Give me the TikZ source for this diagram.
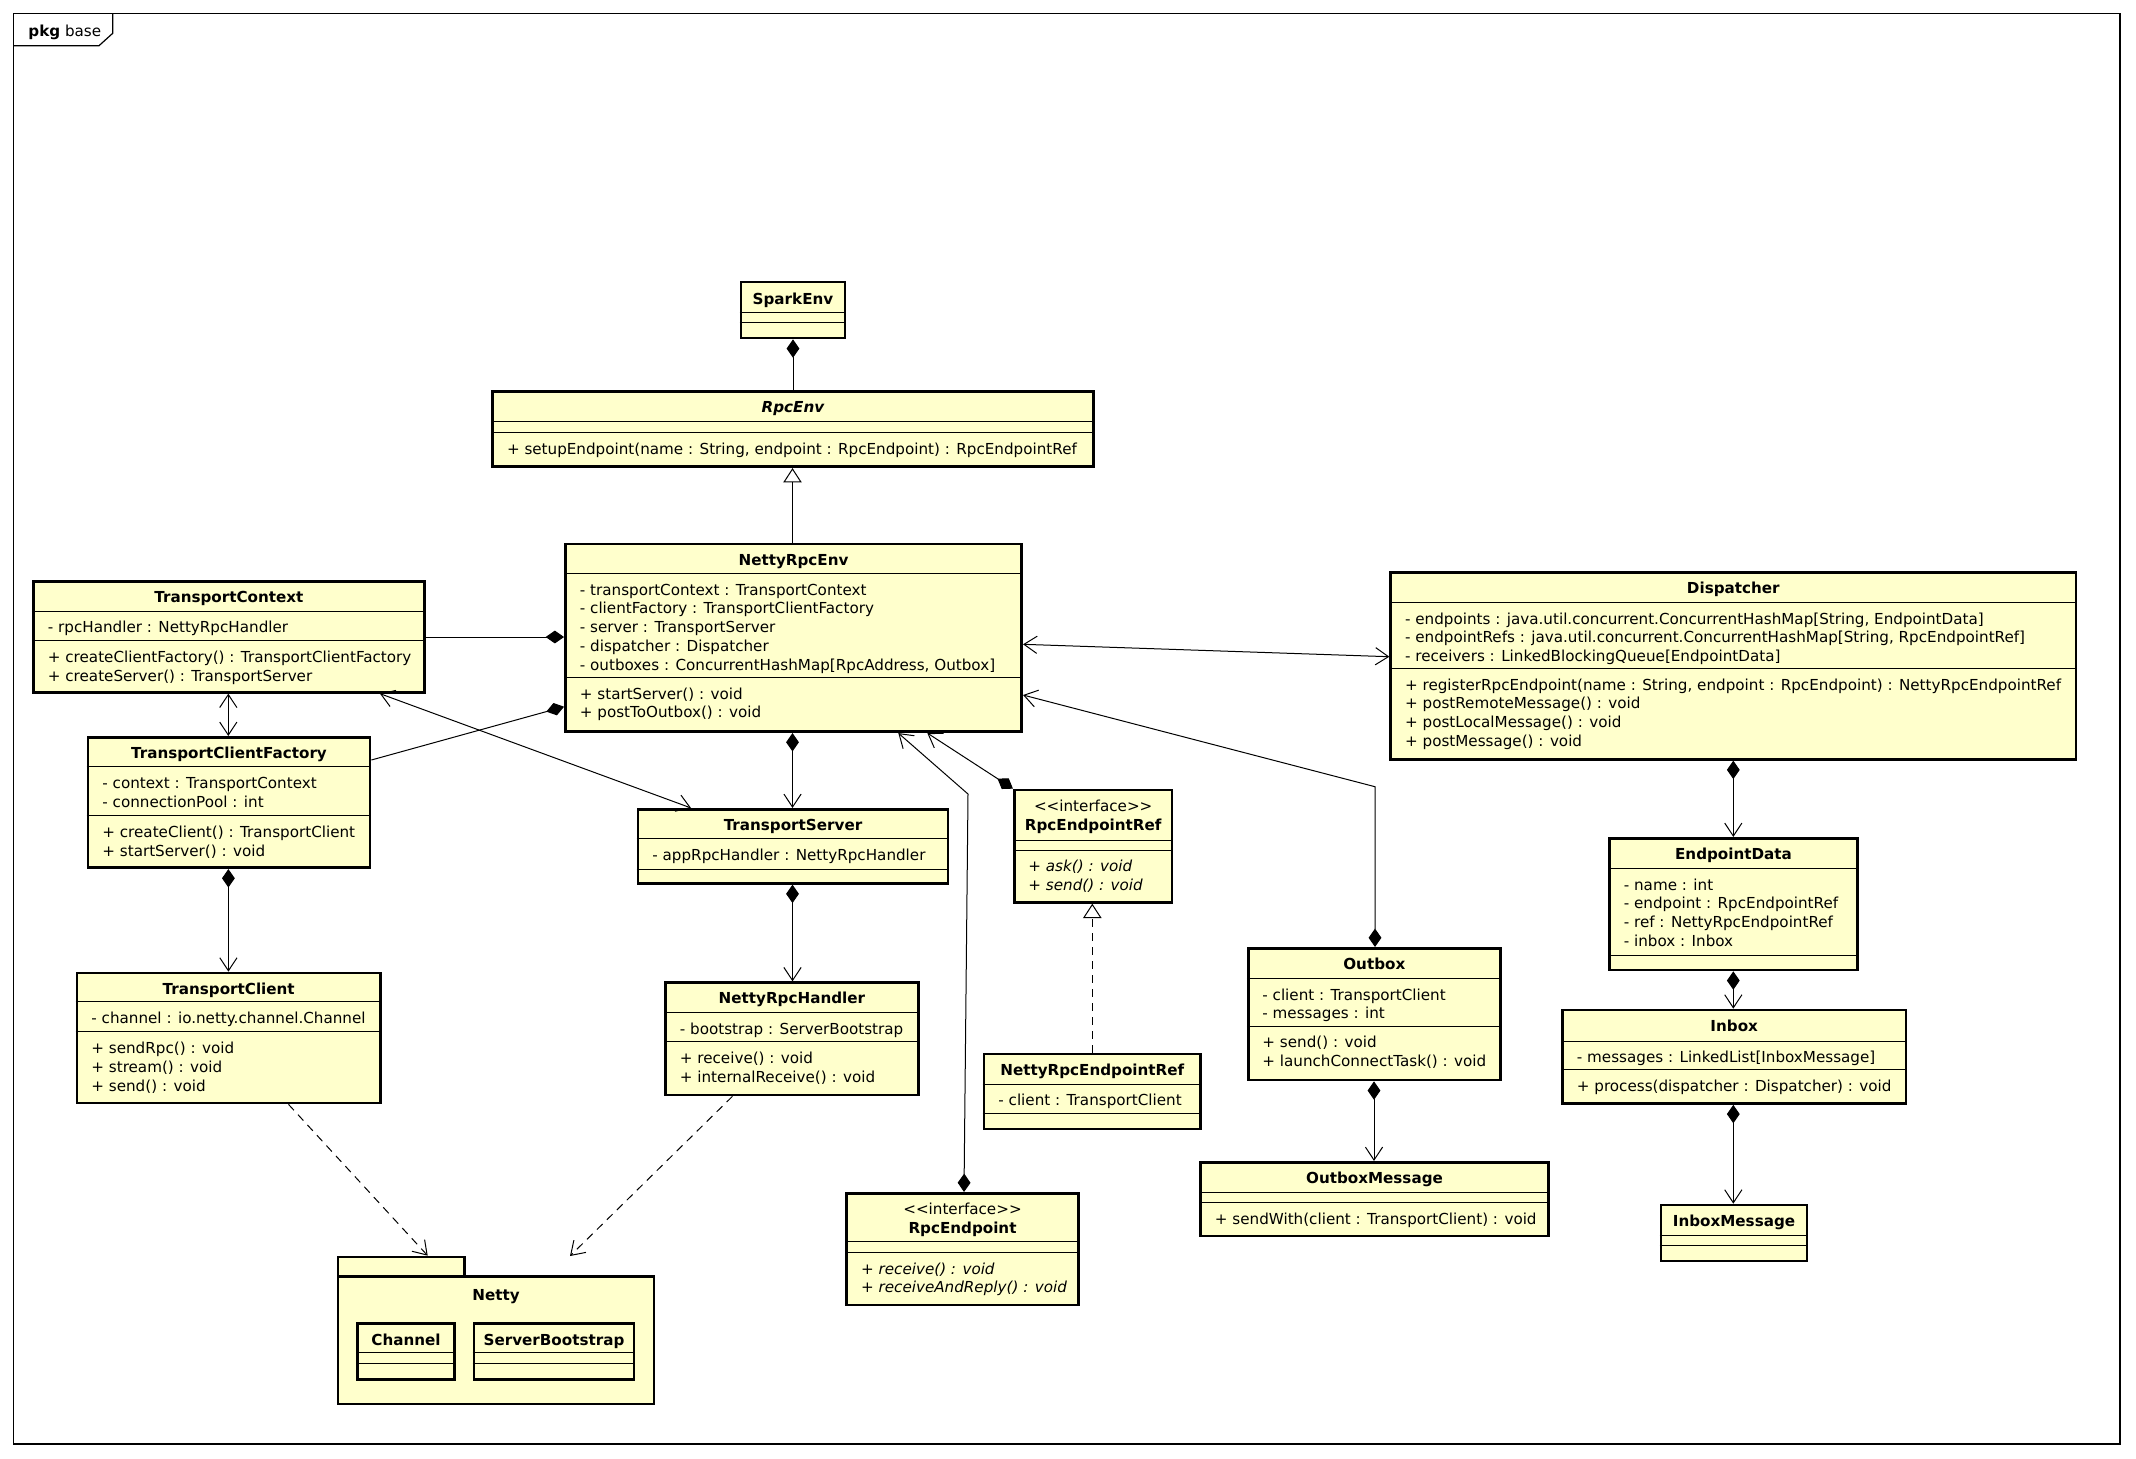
\documentclass[tikz,border=0pt]{standalone}
\usepackage{fontspec}
\setmainfont{DejaVu Sans}
\usetikzlibrary{arrows.meta,fit}
\definecolor{classfill}{RGB}{255,255,204}
\newcommand\uf{\fontsize{7.58pt}{9.35pt}\selectfont}
\newcommand\ls{\rule[-2.6pt]{0pt}{9.35pt}}
\newcommand\secline[2]{\draw[sec] (#1.west |- 0,#2) -- (#1.east |- 0,#2);}
\newcommand\stereo{<{}<interface>{}>}
\tikzset{
  umlcomp/.tip={Diamond[length=9.2pt,width=6.4pt]},
  umlopen/.tip={Straight Barb[length=6.5pt,width=8.6pt]},
  umlgen/.tip={Triangle[open,length=7.2pt,width=9.2pt]},
  box/.style={draw, line width=1.35pt, fill=classfill, inner sep=0pt},
  sec/.style={line width=0.5pt},
  lbl/.style={inner sep=0pt, anchor=north west, align=left},
  ttl/.style={inner sep=0pt, anchor=base, font=\uf\bfseries},
  stp/.style={inner sep=0pt, anchor=base},
  conn/.style={line width=0.5pt},
  dep/.style={line width=0.5pt, dash pattern=on 4pt off 3pt},
}
\begin{document}
\begin{tikzpicture}[x=0.5pt, y=-0.5pt, font=\uf]
\fill[white] (0,0) rectangle (2136,1458);
\useasboundingbox (0,0) rectangle (2136,1458);

% package frame
\node[draw, line width=0.6pt, inner sep=0pt, fit={(13.3,13.3) (2120,1444)}] (frame) {};
\draw[line width=0.6pt] (13.3,45.7) -- (99,45.7) -- (112.7,33.3) -- (112.7,13.3);
\node[inner sep=0pt, anchor=base west] (pkglabel) at (28,36) {\textbf{pkg} base};

% SparkEnv
\node[box, fit={(741,282) (845,338)}] (sparkenv) {};
\secline{sparkenv}{312.3}\secline{sparkenv}{322.3}
\node[ttl] (sparkenv-t) at (793,304) {SparkEnv};

% RpcEnv
\node[box, fit={(492.6,391.7) (1093.2,466.7)}] (rpcenv) {};
\secline{rpcenv}{421.7}\secline{rpcenv}{432.3}
\node[ttl, font=\uf\bfseries\itshape] (rpcenv-t) at (792.9,412.7) {RpcEnv};
\node[lbl] (rpcenv-o) at (506.6,440.3) {\ls + setupEndpoint(name : String, endpoint : RpcEndpoint) : RpcEndpointRef};

% NettyRpcEnv
\node[box, fit={(565.4,544) (1021.7,731.7)}] (nettyrpcenv) {};
\secline{nettyrpcenv}{573.3}\secline{nettyrpcenv}{677.3}
\node[ttl] (nettyrpcenv-t) at (793.5,565) {NettyRpcEnv};
\node[lbl] (nettyrpcenv-a) at (579.5,581.3) {\ls - transportContext : TransportContext\\\ls - clientFactory : TransportClientFactory\\\ls - server : TransportServer\\\ls - dispatcher : Dispatcher\\\ls - outboxes : ConcurrentHashMap[RpcAddress, Outbox]};
\node[lbl] (nettyrpcenv-o) at (579.5,685.3) {\ls + startServer() : void\\\ls + postToOutbox() : void};

% TransportContext
\node[box, fit={(33.2,581.8) (424.6,692.3)}] (tctx) {};
\secline{tctx}{611}\secline{tctx}{640.7}
\node[ttl] (tctx-t) at (228.9,602.5) {TransportContext};
\node[lbl] (tctx-a) at (47.5,619) {\ls - rpcHandler : NettyRpcHandler};
\node[lbl] (tctx-o) at (47.5,648.7) {\ls + createClientFactory() : TransportClientFactory\\\ls + createServer() : TransportServer};

% TransportClientFactory
\node[box, fit={(88,737.3) (370,867.7)}] (tcf) {};
\secline{tcf}{766.7}\secline{tcf}{815.7}
\node[ttl] (tcf-t) at (229,758) {TransportClientFactory};
\node[lbl] (tcf-a) at (102,774.7) {\ls - context : TransportContext\\\ls - connectionPool : int};
\node[lbl] (tcf-o) at (102,823.7) {\ls + createClient() : TransportClient\\\ls + startServer() : void};

% TransportServer
\node[box, fit={(638,809.3) (948,883.3)}] (tserver) {};
\secline{tserver}{838.3}\secline{tserver}{869}
\node[ttl] (tserver-t) at (793,830) {TransportServer};
\node[lbl] (tserver-a) at (652,846.3) {\ls - appRpcHandler : NettyRpcHandler};

% NettyRpcHandler
\node[box, fit={(665.5,982.7) (918.2,1095)}] (nrpch) {};
\secline{nrpch}{1012.7}\secline{nrpch}{1041.7}
\node[ttl] (nrpch-t) at (791.9,1003.7) {NettyRpcHandler};
\node[lbl] (nrpch-a) at (679.5,1020.7) {\ls - bootstrap : ServerBootstrap};
\node[lbl] (nrpch-o) at (679.5,1049.7) {\ls + receive() : void\\\ls + internalReceive() : void};

% TransportClient
\node[box, fit={(77,973) (380.3,1103)}] (tclient) {};
\secline{tclient}{1001.6}\secline{tclient}{1031.9}
\node[ttl] (tclient-t) at (228.7,994) {TransportClient};
\node[lbl] (tclient-a) at (91,1009.6) {\ls - channel : io.netty.channel.Channel};
\node[lbl] (tclient-o) at (91,1039.9) {\ls + sendRpc() : void\\\ls + stream() : void\\\ls + send() : void};

% RpcEndpointRef
\node[box, fit={(1014.3,790) (1172,902.3)}] (rpcepref) {};
\secline{rpcepref}{840}\secline{rpcepref}{850}
\node[stp] (rpcepref-s) at (1093.2,811) {\stereo};
\node[ttl] (rpcepref-t) at (1093.2,830) {RpcEndpointRef};
\node[lbl, font=\uf\itshape] (rpcepref-o) at (1028,858) {\ls + ask() : void\\\ls + send() : void};

% NettyRpcEndpointRef
\node[box, fit={(984,1054) (1200.5,1129)}] (nrpcepref) {};
\secline{nrpcepref}{1084}\secline{nrpcepref}{1113.3}
\node[ttl] (nrpcepref-t) at (1092.3,1075) {NettyRpcEndpointRef};
\node[lbl] (nrpcepref-a) at (998,1092) {\ls - client : TransportClient};

% RpcEndpoint
\node[box, fit={(846.7,1193.3) (1078.4,1305)}] (rpcep) {};
\secline{rpcep}{1241.7}\secline{rpcep}{1252.3}
\node[stp] (rpcep-s) at (962.5,1214.3) {\stereo};
\node[ttl] (rpcep-t) at (962.5,1233.3) {RpcEndpoint};
\node[lbl, font=\uf\itshape] (rpcep-o) at (860.7,1260.3) {\ls + receive() : void\\\ls + receiveAndReply() : void};

% Dispatcher
\node[box, fit={(1390.7,572.3) (2076,759.3)}] (dispatcher) {};
\secline{dispatcher}{602.3}\secline{dispatcher}{668.3}
\node[ttl] (dispatcher-t) at (1733.3,593.3) {Dispatcher};
\node[lbl] (dispatcher-a) at (1404.7,610.3) {\ls - endpoints : java.util.concurrent.ConcurrentHashMap[String, EndpointData]\\\ls - endpointRefs : java.util.concurrent.ConcurrentHashMap[String, RpcEndpointRef]\\\ls - receivers : LinkedBlockingQueue[EndpointData]};
\node[lbl] (dispatcher-o) at (1404.7,676.3) {\ls + registerRpcEndpoint(name : String, endpoint : RpcEndpoint) : NettyRpcEndpointRef\\\ls + postRemoteMessage() : void\\\ls + postLocalMessage() : void\\\ls + postMessage() : void};

% EndpointData
\node[box, fit={(1609.4,838.3) (1857.6,970)}] (epdata) {};
\secline{epdata}{868.3}\secline{epdata}{955}
\node[ttl] (epdata-t) at (1733.5,859.3) {EndpointData};
\node[lbl] (epdata-a) at (1623.4,876.3) {\ls - name : int\\\ls - endpoint : RpcEndpointRef\\\ls - ref : NettyRpcEndpointRef\\\ls - inbox : Inbox};

% Inbox
\node[box, fit={(1562.5,1010) (1906,1103.5)}] (inbox) {};
\secline{inbox}{1041}\secline{inbox}{1069.3}
\node[ttl] (inbox-t) at (1734.2,1031) {Inbox};
\node[lbl] (inbox-a) at (1576.5,1049) {\ls - messages : LinkedList[InboxMessage]};
\node[lbl] (inbox-o) at (1576.5,1077.3) {\ls + process(dispatcher : Dispatcher) : void};

% InboxMessage
\node[box, fit={(1661,1205) (1807,1261)}] (inboxmsg) {};
\secline{inboxmsg}{1235}\secline{inboxmsg}{1245}
\node[ttl] (inboxmsg-t) at (1734,1226) {InboxMessage};

% Outbox
\node[box, fit={(1248.2,948.3) (1500.4,1080)}] (outbox) {};
\secline{outbox}{978.3}\secline{outbox}{1026}
\node[ttl] (outbox-t) at (1374.3,969.3) {Outbox};
\node[lbl] (outbox-a) at (1262,986.3) {\ls - client : TransportClient\\\ls - messages : int};
\node[lbl] (outbox-o) at (1262,1034) {\ls + send() : void\\\ls + launchConnectTask() : void};

% OutboxMessage
\node[box, fit={(1200.5,1162.3) (1548.6,1236)}] (outboxmsg) {};
\secline{outboxmsg}{1192.3}\secline{outboxmsg}{1202.3}
\node[ttl] (outboxmsg-t) at (1374.5,1183.3) {OutboxMessage};
\node[lbl] (outboxmsg-o) at (1214.5,1210.3) {\ls + sendWith(client : TransportClient) : void};

% Netty package
\node[box, fit={(338,1257) (464.5,1276.4)}] (nettytab) {};
\node[box, fit={(338,1276.4) (654,1404)}] (nettypkg) {};
\node[ttl] (nettypkg-t) at (496,1300) {Netty};
\node[box, fit={(357.7,1323.3) (454.2,1379.6)}] (channel) {};
\secline{channel}{1352.9}\secline{channel}{1363.6}
\node[ttl] (channel-t) at (406,1345) {Channel};
\node[box, fit={(474,1323.3) (634.1,1379.6)}] (sbootstrap) {};
\secline{sbootstrap}{1352.9}\secline{sbootstrap}{1363.6}
\node[ttl] (sbootstrap-t) at (554,1345) {ServerBootstrap};

% connectors
\coordinate (epbend) at (968,794);
\coordinate (obbend) at (1375,786.7);
\coordinate (nettydepend) at (570,1256);

\draw[conn, umlcomp-] (sparkenv.south) -- (sparkenv.south |- rpcenv.north);
\draw[conn, -umlgen] (nettyrpcenv.north -| 792.5,0) -- (rpcenv.south -| 792.5,0);
\draw[conn, -umlcomp] (tctx.east |- 0,637) -- (nettyrpcenv.west |- 0,637);
\draw[conn, -umlcomp] (tcf.east |- 0,760) -- (nettyrpcenv.west |- 0,706.7);
\draw[conn, umlopen-umlopen] (tctx.south -| 228.3,0) -- (tcf.north -| 228.3,0);
\draw[conn, umlopen-umlopen] (tctx.south -| 380,0) -- (tserver.north -| 691,0);
\draw[conn, umlcomp-umlopen] (nettyrpcenv.south -| 792.5,0) -- (tserver.north -| 792.5,0);
\draw[conn, umlcomp-umlopen] (tserver.south -| 792.5,0) -- (nrpch.north -| 792.5,0);
\draw[conn, umlcomp-umlopen] (tcf.south -| 228.4,0) -- (tclient.north -| 228.4,0);
\draw[conn, umlcomp-umlopen] (rpcep.north -| 964,0) -- (epbend) -- (nettyrpcenv.south -| 898.3,0);
\draw[conn, umlcomp-umlopen] (rpcepref.north west) -- (nettyrpcenv.south -| 927.3,0);
\draw[conn, umlopen-umlopen] (nettyrpcenv.east |- 0,644.3) -- (dispatcher.west |- 0,656.7);
\draw[conn, umlcomp-umlopen] (outbox.north -| 1375,0) -- (obbend) -- (nettyrpcenv.east |- 0,695);
\draw[conn, umlcomp-umlopen] (dispatcher.south -| 1733.3,0) -- (epdata.north -| 1733.3,0);
\draw[conn, umlcomp-umlopen] (epdata.south -| 1733.3,0) -- (inbox.north -| 1733.3,0);
\draw[conn, umlcomp-umlopen] (inbox.south -| 1733.3,0) -- (inboxmsg.north -| 1733.3,0);
\draw[conn, umlcomp-umlopen] (outbox.south -| 1374,0) -- (outboxmsg.north -| 1374,0);
\draw[dep, -umlgen] (nrpcepref.north -| 1092.3,0) -- (rpcepref.south -| 1092.3,0);
\draw[dep, -umlopen] (tclient.south -| 288.5,0) -- (nettytab.north -| 427.7,0);
\draw[dep, -umlopen] (nrpch.south -| 732.4,0) -- (nettydepend);
\end{tikzpicture}
\end{document}
